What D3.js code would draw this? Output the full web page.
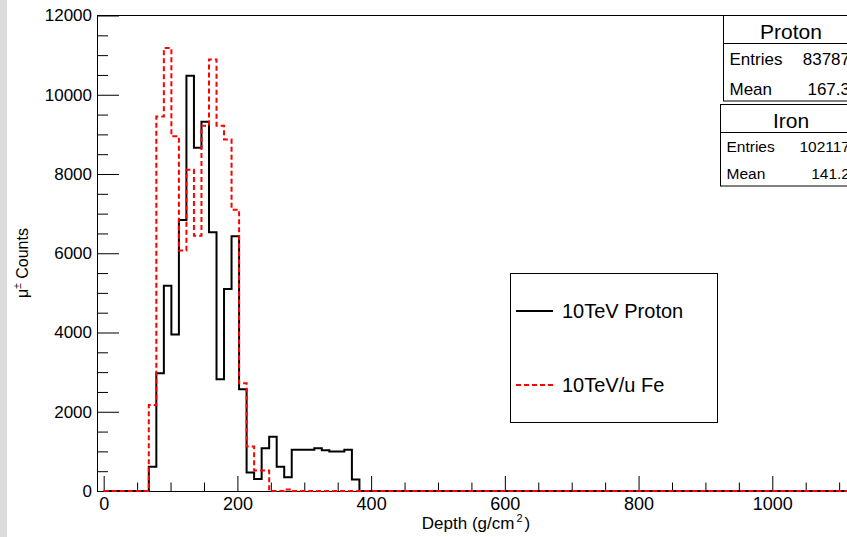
<!DOCTYPE html>
<html>
<head>
<meta charset="utf-8">
<script src="https://cdn.jsdelivr.net/npm/d3@7"></script>
<style>
  html, body { margin: 0; padding: 0; background: #fff; }
  svg { display: block; font-family: "Liberation Sans", Arial, Helvetica, sans-serif; }
</style>
</head>
<body>
<svg id="chart" width="847" height="537"></svg>
<script>
// --- data ---
// bins of 11.25 g/cm2 starting at 0, counts per bin
const binWidth = 11.25;
const protonCounts = [0, 0, 0, 0, 0, 0, 610, 2970, 5180, 3950, 6840, 10480, 8660, 9320,
  6530, 2820, 5100, 6430, 2570, 470, 300, 1080, 1370, 610, 350, 1040, 1040, 1040, 1080,
  1030, 1000, 1000, 1040, 290];
const ironCounts = [0, 0, 0, 0, 0, 0, 2170, 9450, 11180, 8950, 6070, 8110, 6440, 9220,
  10890, 9220, 8870, 7100, 2720, 1120, 520, 520, 0, 0, 40];
const histEnd = 1125;

const xMajor = [0, 200, 400, 600, 800, 1000];
const yMajor = [0, 2000, 4000, 6000, 8000, 10000, 12000];

const legendLabels = ["10TeV Proton", "10TeV/u Fe"];
const statsTitles = ["Proton", "Iron"];
const statsEntries = ["83787", "102117"];
const statsMeans = ["167.3", "141.2"];

// --- scales ---
const svg = d3.select("#chart");
const x = d3.scaleLinear().domain([-10, 1130]).range([97, 97 + 1140 * 0.6686]);
const y = d3.scaleLinear().domain([0, 12000]).range([491, 15.5]);

// grey strip on the left edge of the canvas
svg.append("rect").attr("x", 0).attr("y", 0).attr("width", 7).attr("height", 537)
  .attr("fill", "#dcdcdc");

// minor ticks
const xMinor = d3.range(0, 1130, 50).filter(v => !xMajor.includes(v));
const yMinor = d3.range(0, 12001, 500).filter(v => !yMajor.includes(v));

svg.append("g").attr("transform", "translate(0,491)")
  .call(d3.axisBottom(x).tickValues(xMinor).tickSize(-8.5).tickFormat("").tickSizeOuter(0))
  .call(g => g.select(".domain").remove());
svg.append("g").attr("transform", "translate(97,0)")
  .call(d3.axisLeft(y).tickValues(yMinor).tickSize(-11).tickFormat("").tickSizeOuter(0))
  .call(g => g.select(".domain").remove());

// major axes
const xAxis = svg.append("g").attr("transform", "translate(0,491)")
  .call(d3.axisBottom(x).tickValues(xMajor).tickSize(-15).tickPadding(6)
    .tickFormat(d3.format("d")).tickSizeOuter(0));
xAxis.selectAll("text").attr("font-size", 18).attr("fill", "#000");

const yAxis = svg.append("g").attr("transform", "translate(97,0)")
  .call(d3.axisLeft(y).tickValues(yMajor).tickSize(-22).tickPadding(5)
    .tickFormat(d3.format("d")).tickSizeOuter(0));
yAxis.selectAll("text").attr("font-size", 17).attr("fill", "#000");

svg.selectAll(".domain").attr("stroke", "#000");
svg.selectAll(".tick line").attr("stroke", "#000");
svg.selectAll("g").attr("font-family", null);

// frame top and right lines
svg.append("line").attr("x1", x.range()[0]).attr("x2", x.range()[1])
  .attr("y1", y(12000)).attr("y2", y(12000)).attr("stroke", "#000");
svg.append("line").attr("x1", x.range()[1]).attr("x2", x.range()[1])
  .attr("y1", y(12000)).attr("y2", y(0)).attr("stroke", "#000");

// --- histograms as step lines ---
function stepPoints(counts) {
  const pts = counts.map((c, i) => [i * binWidth, c]);
  pts.push([counts.length * binWidth, 0]);
  pts.push([histEnd, 0]);
  return pts;
}
const step = d3.line().x(d => x(d[0])).y(d => y(d[1])).curve(d3.curveStepAfter);

svg.append("path").attr("d", step(stepPoints(protonCounts)))
  .attr("fill", "none").attr("stroke", "#000").attr("stroke-width", 2);
svg.append("path").attr("d", step(stepPoints(ironCounts)))
  .attr("fill", "none").attr("stroke", "#ff0000").attr("stroke-width", 2)
  .attr("stroke-dasharray", "5,3");

// --- axis titles ---
const xt = svg.append("text").attr("x", 476).attr("y", 529)
  .attr("text-anchor", "middle").attr("font-size", 17);
xt.append("tspan").text("Depth (g/cm");
xt.append("tspan").attr("font-size", 11).attr("dy", -7).attr("dx", 2).text("2");
xt.append("tspan").attr("dy", 7).attr("dx", 2).text(")");

const yt = svg.append("text").attr("transform", "translate(28,263) rotate(-90)")
  .attr("text-anchor", "middle").attr("font-size", 16);
yt.append("tspan").text("μ");
yt.append("tspan").attr("font-size", 10).attr("dy", -7).text("±");
yt.append("tspan").attr("dy", 7).text(" Counts");

// --- legend ---
const legend = svg.append("g");
legend.append("rect").attr("x", 510.5).attr("y", 273.5).attr("width", 207).attr("height", 149)
  .attr("fill", "#fff").attr("stroke", "#000");
const legendY = [311, 385];
legendLabels.forEach((lab, i) => {
  legend.append("line").attr("x1", 516).attr("x2", 553).attr("y1", legendY[i]).attr("y2", legendY[i])
    .attr("stroke", i === 0 ? "#000" : "#ff0000").attr("stroke-width", 2)
    .attr("stroke-dasharray", i === 0 ? null : "5,3");
  legend.append("text").attr("x", 562).attr("y", legendY[i]).attr("dy", "0.35em")
    .attr("font-size", 20).text(lab);
});

// --- stats boxes ---
const boxes = [
  { x: 723.5, top: 15.5, sep: 43.5, bottom: 101, titleY: 38.5, entY: 65, meanY: 95, fs: 17 },
  { x: 720.5, top: 104.5, sep: 132.5, bottom: 186, titleY: 127.5, entY: 152, meanY: 179, fs: 15.5 }
];
boxes.forEach((b, i) => {
  const g = svg.append("g");
  g.append("rect").attr("x", b.x).attr("y", b.top).attr("width", 160).attr("height", b.bottom - b.top)
    .attr("fill", "#fff").attr("stroke", "#000");
  g.append("line").attr("x1", b.x).attr("x2", b.x + 160).attr("y1", b.sep).attr("y2", b.sep)
    .attr("stroke", "#000");
  g.append("text").attr("x", 791).attr("y", b.titleY).attr("text-anchor", "middle")
    .attr("font-size", 21).text(statsTitles[i]);
  g.append("text").attr("x", b.x + 6).attr("y", b.entY).attr("font-size", b.fs).text("Entries");
  g.append("text").attr("x", 850).attr("y", b.entY).attr("text-anchor", "end")
    .attr("font-size", b.fs).text(statsEntries[i]);
  g.append("text").attr("x", b.x + 6).attr("y", b.meanY).attr("font-size", b.fs).text("Mean");
  g.append("text").attr("x", 850).attr("y", b.meanY).attr("text-anchor", "end")
    .attr("font-size", b.fs).text(statsMeans[i]);
});
</script>
</body>
</html>
